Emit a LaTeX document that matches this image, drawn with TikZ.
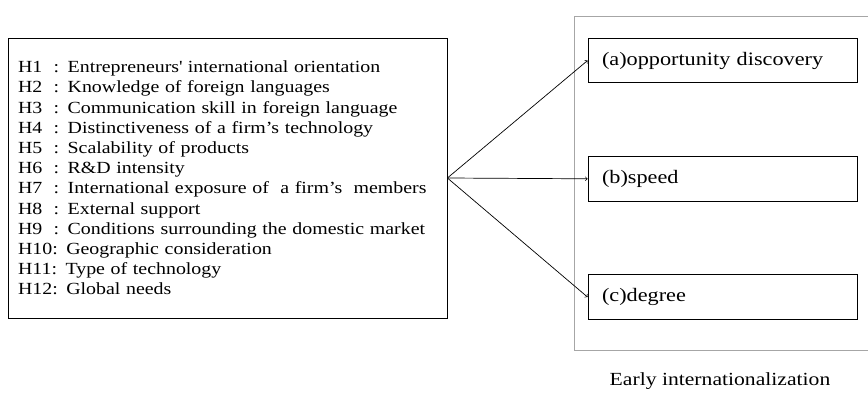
\documentclass[tikz,border=0pt]{standalone}
\usepackage{fontspec}
\setmainfont{Liberation Serif}[FakeStretch=1.17]
\usetikzlibrary{positioning}

\begin{document}
\begin{tikzpicture}[x=1pt,y=1pt,
  hypbox/.style={draw, line width=0.8pt, align=left, text width=419pt,
    inner xsep=10pt, minimum height=280pt, font=\fontsize{17}{20.2}\selectfont},
  outbox/.style={draw, line width=0.8pt, align=left, text width=241pt,
    inner xsep=14pt, minimum height=44.5pt, font=\fontsize{19}{22}\selectfont},
  link/.style={->, line width=0.7pt}]
\useasboundingbox (0,0) rectangle (868,392);
% frame of the outcomes
\draw[gray!70, line width=0.8pt] (868,376) -- (574,376) -- (574,42) -- (868,42);
\node[anchor=base, font=\fontsize{18.5}{22}\selectfont] (early) at (720,7) {Early internationalization};
% hypotheses
\node[hypbox] (hyp) at (227.5,214) {%
H1~~: Entrepreneurs\textquotesingle\ international orientation\\
H2~~: Knowledge of foreign languages\\
H3~~: Communication skill in foreign language\\
H4~~: Distinctiveness of a firm’s technology\\
H5~~: Scalability of products\\
H6~~: R\&D intensity\\
H7~~: International exposure of~ a firm’s~ members\\
H8~~: External support\\
H9~~: Conditions surrounding the domestic market\\
H10: Geographic consideration\\
H11: Type of technology\\
H12: Global needs};
% outcomes
\node[outbox] (opp) at (722.5,331.5) {(a)opportunity discovery};
\node[outbox, below=73pt of opp] (spd) {(b)speed};
\node[outbox, below=73pt of spd] (deg) {(c)degree};
% arrows
\draw[link] (hyp.east) -- (opp.west);
\draw[link] (hyp.east) -- (spd.west);
\draw[link] (hyp.east) -- (deg.west);
\end{tikzpicture}
\end{document}
